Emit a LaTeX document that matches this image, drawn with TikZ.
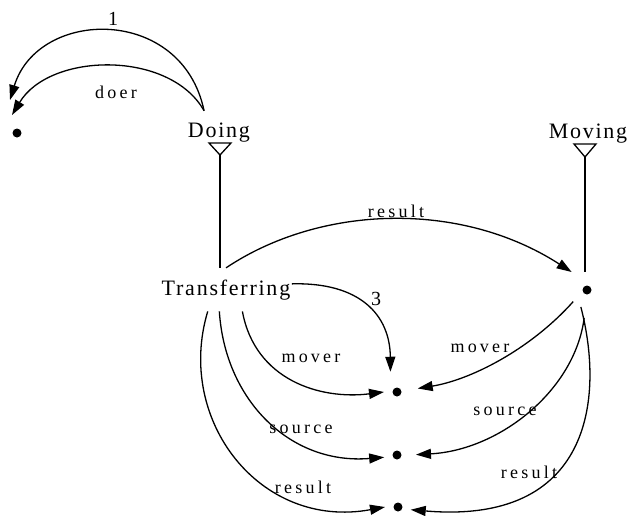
\documentclass[tikz,border=0pt]{standalone}
\usepackage{fontspec}
\setmainfont{Liberation Serif}
\newfontfamily\conceptfont{Liberation Serif}[LetterSpace=8]
\newfontfamily\rolefont{Liberation Serif}[LetterSpace=18]
\usetikzlibrary{arrows.meta}

\tikzset{
  concept/.style={inner xsep=1pt, inner ysep=11pt, anchor=base, font=\conceptfont\fontsize{22}{22}\selectfont},
  role/.style={inner sep=1pt, anchor=base, font=\rolefont\fontsize{18}{18}\selectfont},
  num/.style={inner sep=1pt, anchor=base, font=\fontsize{20}{20}\selectfont},
  slot/.style={circle, fill=black, minimum size=9pt, inner sep=0pt, outer sep=8.5pt},
  rel/.style={-{Triangle[length=15pt,width=10pt]}}
}

\begin{document}
\begin{tikzpicture}[x=1pt,y=-1pt,line width=1.3pt]
             \useasboundingbox (0,0) rectangle (630,515);

             \node[concept] (doing) at (219,137) {Doing};
             \node[concept] (moving) at (588,138) {Moving};
             \node[concept] (trans) at (226,295) {Transferring};

             \node[slot, outer sep=0pt] (agent) at (17,133) {};
             \node[slot, outer sep=13.5pt] (goal) at (587,290) {};
             \node[slot] (mv) at (397,392) {};
             \node[slot] (src) at (397,455) {};
             \node[slot] (res) at (398,507) {};

             \coordinate (doingisa) at (220,155);
             \coordinate (movingisa) at (585,157);
             \draw (doingisa) -- ++(-11,-12) -- ++(22,0) -- cycle;
             \draw (movingisa) -- ++(-11,-13) -- ++(22,0) -- cycle;
             \draw (doingisa) -- (doingisa |- trans.north);
             \draw (movingisa) -- (movingisa |- goal.north);

             \coordinate (agentin1) at (10,100);
             \coordinate (agentin2) at (12,115);
             \draw[rel] (doing.125) .. controls (182,5) and (38,8) .. (agentin1);
             \draw[rel] (doing.125) .. controls (170,50) and (50,52) .. (agentin2);
             \node[num] (one) at (113,25) {1};
             \node[role] (doerlbl) at (116,98) {doer};

             \draw[rel, shorten >=6pt] (trans.north) .. controls (320,205) and (460,200) .. (goal.125);
             \node[role] (resulttop) at (396,217) {result};

             \draw[rel, shorten >=9pt] (trans.5) .. controls (360,282) and (390,315) .. (mv.120);
             \node[num] (three) at (376,305) {3};

             \draw[rel] (trans.-53) .. controls (255,380) and (320,400) .. (mv.west);
             \draw[rel] (trans.-107) .. controls (225,400) and (290,465) .. (src.190);
             \draw[rel] (trans.-130) .. controls (175,420) and (260,530) .. (res.west);
             \node[role] (moverl) at (311,362) {mover};
             \node[role] (sourcel) at (301,433) {source};
             \node[role] (resultl) at (303,493) {result};

             \draw[rel, shorten >=8pt] (goal.220) .. controls (530,350) and (470,380) .. (mv.10);
             \draw[rel, shorten <=10pt, shorten >=6pt] (goal.265) .. controls (575,390) and (500,450) .. (src.east);
             \draw[rel] (goal.250) .. controls (605,400) and (590,525) .. (res.-12);
             \node[role] (moverr) at (480,352) {mover};
             \node[role] (sourcer) at (505,415) {source};
             \node[role] (resultr) at (529,478) {result};
\end{tikzpicture}
\end{document}
